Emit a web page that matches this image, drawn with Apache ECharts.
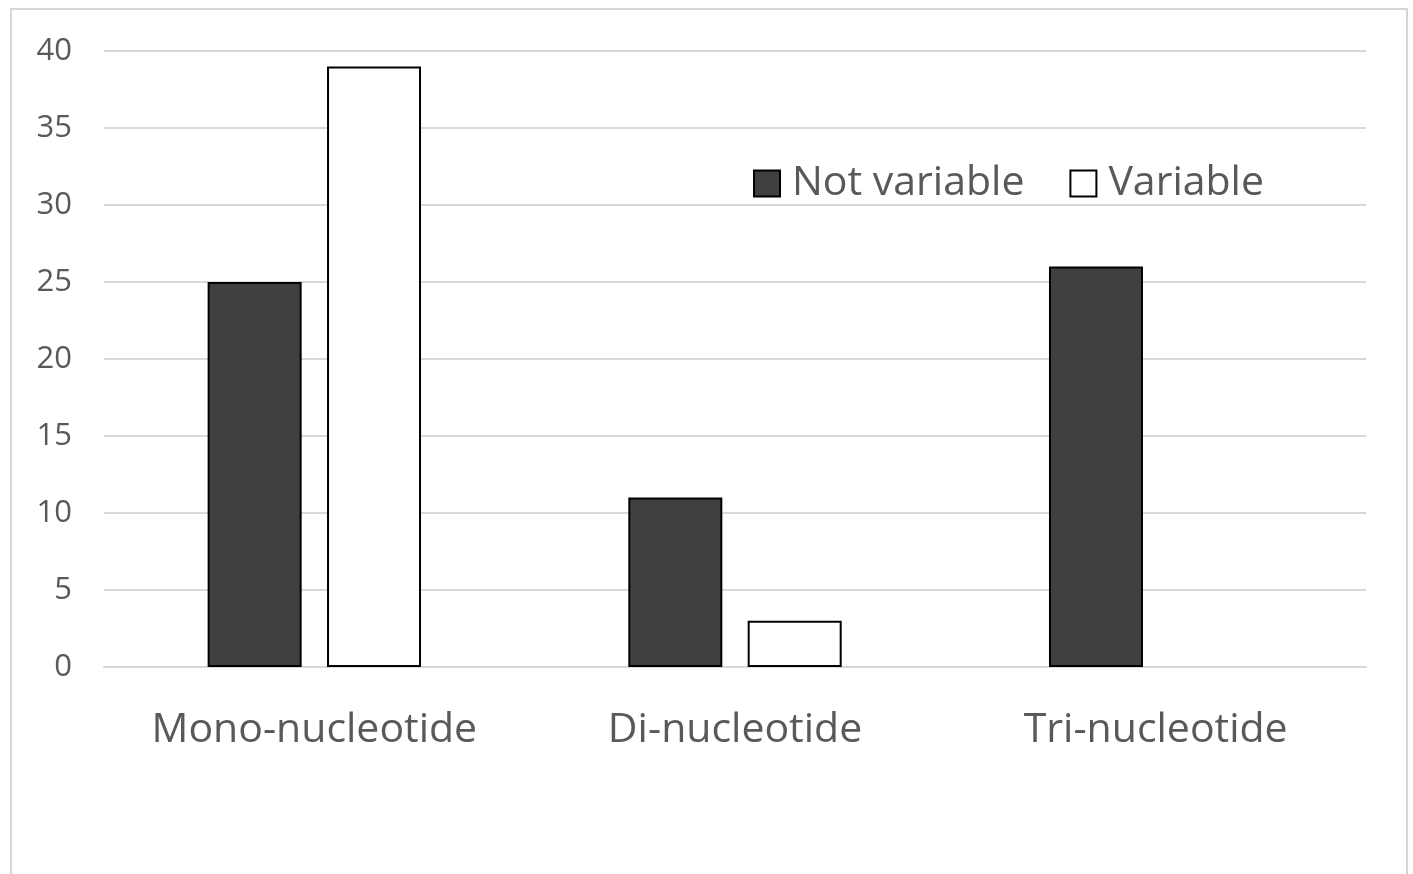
<!DOCTYPE html>
<html>
<head>
<meta charset="utf-8">
<script src="https://cdn.jsdelivr.net/npm/echarts@6/dist/echarts.min.js"></script>
<style>
html,body{margin:0;padding:0;background:#fff;}
#c{width:1413px;height:874px;}
</style>
</head>
<body>
<div id="c"></div>
<script>
const categories = ['Mono-nucleotide', 'Di-nucleotide', 'Tri-nucleotide'];
const seriesNames = ['Not variable', 'Variable'];
const notVariable = [25, 11, 26];
const variable = [39, 3, null];
const yTicks = { min: 0, max: 40, interval: 5 };

const chart = echarts.init(document.getElementById('c'));
const FONT = 'Open Sans';
const TXT = '#595959';
chart.setOption({
  backgroundColor: '#fff',
  animation: false,
  graphic: [{
    type: 'rect',
    shape: { x: 11, y: 9, width: 1396, height: 900 },
    style: { fill: 'none', stroke: '#d6d6d6', lineWidth: 2 },
    silent: true, z: -10
  }],
  legend: {
    left: 753, top: 163, padding: 0,
    itemWidth: 26, itemHeight: 26, itemGap: 45,
    textStyle: { fontFamily: FONT, fontSize: 41, color: TXT, padding: [0, 0, 0, 7] },
    data: [
      { name: seriesNames[0], icon: 'rect', itemStyle: { color: '#404040', borderColor: '#000', borderWidth: 2 } },
      { name: seriesNames[1], icon: 'rect', itemStyle: { color: '#fff', borderColor: '#000', borderWidth: 2 } }
    ]
  },
  grid: { left: 104, right: 47, top: 51, bottom: 207, containLabel: false },
  xAxis: {
    type: 'category', data: categories,
    axisLine: { lineStyle: { color: '#d9d9d9', width: 2 } },
    axisTick: { show: false },
    axisLabel: { fontFamily: FONT, fontSize: 41, color: TXT, margin: 43, interval: 0 }
  },
  yAxis: {
    type: 'value', min: yTicks.min, max: yTicks.max, interval: yTicks.interval,
    axisLine: { show: false }, axisTick: { show: false },
    splitLine: { lineStyle: { color: '#d9d9d9', width: 2 } },
    axisLabel: { fontFamily: FONT, fontSize: 31, color: TXT, margin: 32 }
  },
  series: [
    { name: seriesNames[0], type: 'bar', data: notVariable, barWidth: 94, barGap: '27%',
      itemStyle: { color: '#404040', borderColor: '#000', borderWidth: 2 } },
    { name: seriesNames[1], type: 'bar', data: variable, barWidth: 94,
      itemStyle: { color: '#fff', borderColor: '#000', borderWidth: 2 } }
  ]
});
</script>
</body>
</html>
